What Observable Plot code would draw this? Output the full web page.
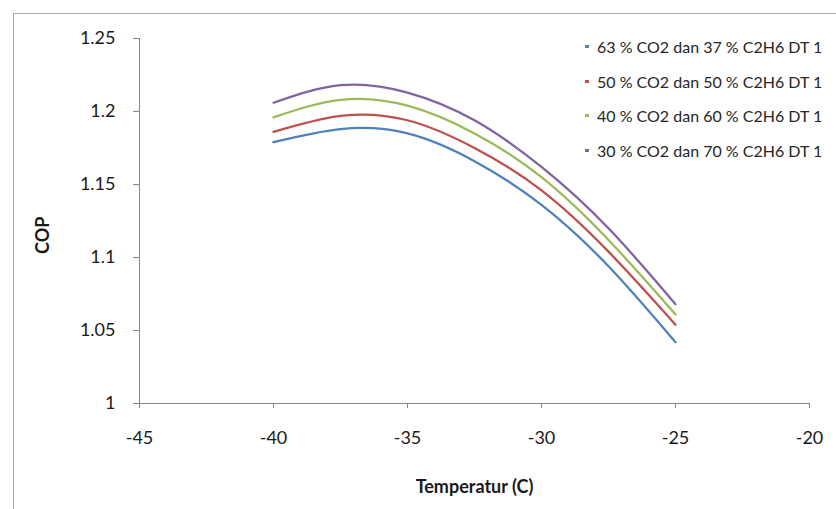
<!DOCTYPE html>
<html>
<head>
<meta charset="utf-8">
<script src="https://cdn.jsdelivr.net/npm/d3@7"></script>
<script src="https://cdn.jsdelivr.net/npm/@observablehq/plot@0.6"></script>
<style>
  html, body { margin: 0; padding: 0; background: #ffffff; }
  #wrap { position: relative; width: 836px; height: 509px; overflow: hidden; font-family: Lato, "Open Sans", sans-serif; }
  #frame { position: absolute; left: 13px; top: 13px; width: 900px; height: 600px; border-left: 1px solid #a6a6a6; border-top: 1px solid #a6a6a6; pointer-events: none; }
  #legend { position: absolute; left: 585px; top: 29px; font-size: 16px; color: #262626; }
  #legend .row { height: 34.7px; display: flex; align-items: center; white-space: nowrap; }
  #legend .sw { width: 4px; height: 3px; margin-right: 8px; }
</style>
</head>
<body>
<div id="wrap"><div id="frame"></div><div id="legend"></div></div>
<script>
const temperatures = [-40, -37.5, -35, -32.5, -30, -27.5, -25];
const cop63 = [1.179, 1.188, 1.185, 1.166, 1.136, 1.094, 1.042];
const cop50 = [1.186, 1.197, 1.194, 1.175, 1.146, 1.104, 1.054];
const cop40 = [1.196, 1.208, 1.204, 1.185, 1.155, 1.112, 1.061];
const cop30 = [1.206, 1.218, 1.213, 1.194, 1.162, 1.120, 1.068];
const seriesNames = [
  "63 % CO2 dan 37 % C2H6 DT 1",
  "50 % CO2 dan 50 % C2H6 DT 1",
  "40 % CO2 dan 60 % C2H6 DT 1",
  "30 % CO2 dan 70 % C2H6 DT 1"
];
const seriesColors = ["#4F81BD", "#C0504D", "#9BBB59", "#8064A2"];
const xTicks = [-45, -40, -35, -30, -25, -20];
const yTicks = [1, 1.05, 1.1, 1.15, 1.2, 1.25];

const allSeries = [cop63, cop50, cop40, cop30];
const data = allSeries.flatMap((vals, i) =>
  vals.map((v, j) => ({series: seriesNames[i], t: temperatures[j], cop: v}))
);

const chart = Plot.plot({
  width: 836,
  height: 509,
  marginLeft: 139,
  marginRight: 27,
  marginTop: 38,
  marginBottom: 106,
  style: {fontFamily: "Lato, 'Open Sans', sans-serif", fontSize: "18px", color: "#1a1a1a", background: "transparent", overflow: "visible"},
  x: {domain: [-45, -20]},
  y: {domain: [1, 1.25]},
  color: {domain: seriesNames, range: seriesColors},
  marks: [
    Plot.ruleY([1], {stroke: "#868686", strokeWidth: 1}),
    Plot.ruleX([-45], {stroke: "#868686", strokeWidth: 1}),
    Plot.axisY({ticks: yTicks, tickSize: 6, tickPadding: 18, stroke: "#868686", tickFormat: d => String(+d.toFixed(2)), label: null}),
    Plot.axisX({ticks: xTicks, tickSize: 5, tickPadding: 23, stroke: "#868686", tickFormat: d => String(d), label: null}),
    Plot.line(data, {x: "t", y: "cop", z: "series", stroke: "series", strokeWidth: 2.3, curve: "natural"}),
    Plot.text(["COP"], {frameAnchor: "left", rotate: -90, dx: -96, dy: 33, fontWeight: "bold", fontSize: 18, fill: "#1a1a1a"}),
    Plot.text(["Temperatur (C)"], {frameAnchor: "bottom", dy: 89, fontWeight: "bold", fontSize: 18, fill: "#1a1a1a"})
  ]
});
chart.style.position = "absolute";
chart.style.left = "0px";
chart.style.top = "0px";
document.getElementById("wrap").appendChild(chart);

const legend = document.getElementById("legend");
seriesNames.forEach((name, i) => {
  const row = document.createElement("div");
  row.className = "row";
  const sw = document.createElement("span");
  sw.className = "sw";
  sw.style.background = seriesColors[i];
  const label = document.createElement("span");
  label.textContent = name;
  row.appendChild(sw);
  row.appendChild(label);
  legend.appendChild(row);
});
</script>
</body>
</html>
